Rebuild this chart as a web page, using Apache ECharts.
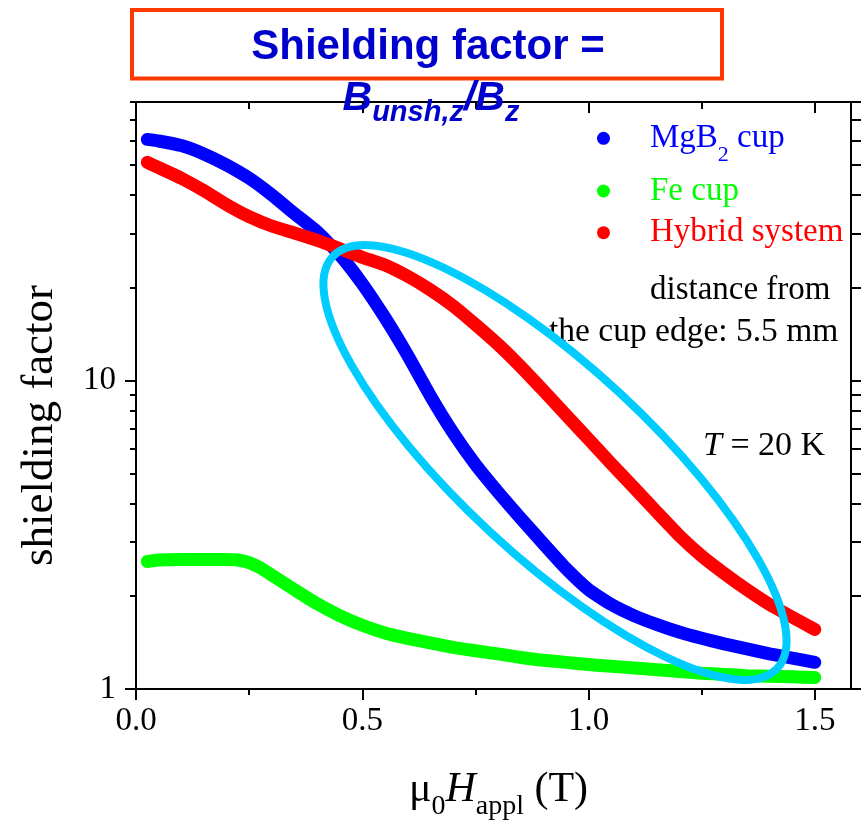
<!DOCTYPE html>
<html>
<head>
<meta charset="utf-8">
<script src="https://cdn.jsdelivr.net/npm/echarts@6.0.0/dist/echarts.min.js"></script>
<style>
  html, body { margin: 0; padding: 0; background: #ffffff; }
  #chart { width: 861px; height: 828px; }
</style>
</head>
<body>
<div id="chart"></div>
<script>
// Applied field (T) for the MgB2 cup and hybrid system curves
const fieldT = [0.025, 0.05, 0.10, 0.15, 0.20, 0.25, 0.30, 0.35, 0.40, 0.45, 0.50,
  0.55, 0.60, 0.65, 0.70, 0.75, 0.80, 0.85, 0.90, 0.95, 1.00,
  1.05, 1.10, 1.15, 1.20, 1.25, 1.30, 1.35, 1.40, 1.45, 1.50];
// Shielding factor, MgB2 cup
const mgb2Cup = [60.5, 59.8, 57.8, 54.3, 50.0, 45.3, 40.0, 34.8, 30.4, 25.6, 20.6,
  16.0, 12.1, 8.95, 6.8, 5.35, 4.35, 3.58, 2.96, 2.46, 2.10,
  1.88, 1.73, 1.62, 1.53, 1.46, 1.40, 1.35, 1.30, 1.26, 1.22];
// Shielding factor, hybrid system (MgB2 + Fe)
const hybridSystem = [51.0, 49.0, 45.3, 41.3, 37.2, 34.0, 31.7, 30.1, 28.5, 26.8, 25.1,
  23.7, 21.8, 19.7, 17.5, 15.2, 13.1, 11.1, 9.29, 7.74, 6.46,
  5.38, 4.50, 3.76, 3.15, 2.70, 2.37, 2.10, 1.88, 1.71, 1.56];
// Applied field (T) and shielding factor for the Fe cup
const feField = [0.025, 0.05, 0.10, 0.15, 0.20, 0.225, 0.25, 0.275, 0.30, 0.35, 0.40,
  0.45, 0.50, 0.55, 0.60, 0.65, 0.70, 0.75, 0.80, 0.85, 0.90, 0.95, 1.00,
  1.05, 1.10, 1.15, 1.20, 1.25, 1.30, 1.35, 1.40, 1.45, 1.50];
const feCup = [2.59, 2.62, 2.63, 2.63, 2.63, 2.62, 2.57, 2.47, 2.34, 2.10, 1.89,
  1.73, 1.61, 1.52, 1.46, 1.41, 1.365, 1.33, 1.30, 1.265, 1.24, 1.22, 1.20,
  1.185, 1.17, 1.155, 1.14, 1.125, 1.115, 1.105, 1.10, 1.095, 1.09];

// Tick positions
const xMajorTicks = [0, 0.5, 1.0, 1.5];
const xMinorTicks = [0.25, 0.75, 1.25];
const yMajorTicks = [1, 10];
const yMinorTicks = [2, 3, 4, 5, 6, 7, 8, 9, 20, 30, 40, 50, 60, 70, 80];

const SERIF = '"Liberation Serif", "Times New Roman", serif';
const SANS = '"Liberation Sans", Arial, sans-serif';
const INK = '#000000';
const BLUE = '#0000ff', GREEN = '#00ff00', RED = '#ff0000';

const X_MIN = 0, X_MAX = 1.58;
const Y_MIN = 1, Y_MAX = 80;

const axisLineStyle = { show: true, onZero: false, lineStyle: { color: INK, width: 2 } };
const hiddenLine = { show: false, onZero: false };

function xAxisSpec(position, ticks, len, inside, extra) {
  return Object.assign({
    type: 'value', position, min: X_MIN, max: X_MAX,
    axisLine: hiddenLine,
    axisTick: { show: true, inside, length: len, customValues: ticks, lineStyle: { color: INK, width: 2 } },
    axisLabel: { show: false },
    splitLine: { show: false }
  }, extra || {});
}
function yAxisSpec(position, ticks, len, inside, extra) {
  return Object.assign({
    type: 'log', logBase: 10, position, min: Y_MIN, max: Y_MAX,
    axisLine: hiddenLine,
    axisTick: { show: true, inside, length: len, customValues: ticks, lineStyle: { color: INK, width: 2 } },
    axisLabel: { show: false },
    splitLine: { show: false }
  }, extra || {});
}

function pairs(xs, ys) { return xs.map((x, i) => [x, ys[i]]); }

function curve(name, color, xs, ys) {
  return {
    name, type: 'line', color,
    data: pairs(xs, ys),
    xAxisIndex: 0, yAxisIndex: 0,
    symbol: 'none', showSymbol: false, smooth: 0.15,
    lineStyle: { width: 13, color, cap: 'round', join: 'round' },
    itemStyle: { color },
    emphasis: { disabled: true },
    silent: true
  };
}

function legendFor(name, top, color, formatter, rich) {
  return {
    data: [name], left: 597, top, orient: 'vertical', padding: 0,
    icon: 'circle', itemWidth: 83, itemHeight: 13, selectedMode: false,
    itemStyle: { borderWidth: 0 },
    formatter: formatter || '{name}',
    textStyle: Object.assign({ color, fontFamily: SERIF, fontSize: 33, lineHeight: 40 },
      rich ? { rich } : {})
  };
}

const chart = echarts.init(document.getElementById('chart'), null, { renderer: 'canvas' });

chart.setOption({
  animation: false,
  backgroundColor: '#ffffff',
  grid: { left: 136, right: 10, top: 102, bottom: 139, containLabel: false, outerBoundsMode: 'none' },
  xAxis: [
    xAxisSpec('bottom', xMajorTicks, 11, false, {
      axisLine: axisLineStyle,
      axisLabel: {
        show: true, customValues: xMajorTicks, margin: 16,
        formatter: v => Number(v).toFixed(1),
        color: INK, fontFamily: SERIF, fontSize: 33
      },
      name: '{m|\u03bc}{s|0}{i|H}{s|appl}{m| (T)}',
      nameLocation: 'middle', nameGap: 76,
      nameTextStyle: {
        color: INK, fontFamily: SERIF, fontSize: 42, padding: [0, 0, 0, 10],
        rich: {
          m: { fontFamily: SERIF, fontSize: 42, lineHeight: 50, color: INK },
          i: { fontFamily: SERIF, fontSize: 42, lineHeight: 50, fontStyle: 'italic', color: INK },
          s: { fontFamily: SERIF, fontSize: 28, lineHeight: 28, padding: [33, 0, 0, 0], color: INK }
        }
      }
    }),
    xAxisSpec('bottom', xMinorTicks, 6, false),
    xAxisSpec('top', xMajorTicks, 11, true, { axisLine: axisLineStyle }),
    xAxisSpec('top', xMinorTicks, 7, true)
  ],
  yAxis: [
    yAxisSpec('left', yMajorTicks, 11, false, {
      axisLine: axisLineStyle,
      axisLabel: {
        show: true, customValues: yMajorTicks, margin: 20,
        formatter: v => String(Math.round(v)),
        color: INK, fontFamily: SERIF, fontSize: 33
      },
      name: 'shielding factor',
      nameLocation: 'middle', nameGap: 73,
      nameTextStyle: { color: INK, fontFamily: SERIF, fontSize: 45, lineHeight: 45, padding: [0, 60, 0, 0] }
    }),
    yAxisSpec('left', yMinorTicks, 6, false),
    yAxisSpec('right', yMajorTicks.concat(yMinorTicks), 10, false, { axisLine: axisLineStyle })
  ],
  legend: [
    legendFor('MgB2 cup', 110.8, BLUE, () => '{m|MgB}{s|2}{m| cup}', {
      m: { color: BLUE, fontFamily: SERIF, fontSize: 33, lineHeight: 40 },
      s: { color: BLUE, fontFamily: SERIF, fontSize: 22, lineHeight: 22, padding: [33, 0, 0, 0] }
    }),
    legendFor('Fe cup', 171, GREEN),
    legendFor('Hybrid system', 212.7, RED)
  ],
  series: [
    curve('MgB2 cup', BLUE, fieldT, mgb2Cup),
    curve('Fe cup', GREEN, feField, feCup),
    curve('Hybrid system', RED, fieldT, hybridSystem)
  ],
  graphic: [
    // boxed formula heading
    {
      type: 'rect', z: 90, silent: true,
      shape: { x: 132, y: 10, width: 590, height: 68.5 },
      style: { fill: 'transparent', stroke: '#ff3a00', lineWidth: 4 }
    },
    {
      type: 'text', z: 95, silent: true, x: 428, y: 47.5,
      style: {
        text: 'Shielding factor =', fill: '#0000cc',
        fontFamily: SANS, fontSize: 42, fontWeight: 'bold', lineHeight: 48,
        align: 'center', verticalAlign: 'middle'
      }
    },
    {
      type: 'text', z: 95, silent: true, x: 431, y: 99,
      style: {
        text: '{b|B}{s|unsh,z}{b|/B}{s|z}',
        align: 'center', verticalAlign: 'middle',
        rich: {
          b: { fill: '#0000cc', fontFamily: SANS, fontSize: 41, fontWeight: 'bold', fontStyle: 'italic', lineHeight: 48 },
          s: { fill: '#0000cc', fontFamily: SANS, fontSize: 29, fontWeight: 'bold', fontStyle: 'italic', lineHeight: 29, padding: [28, 0, 0, 0] }
        }
      }
    },
    // notes inside the plot
    {
      type: 'text', z: 95, silent: true, x: 650, y: 290.6,
      style: { text: 'distance from', fill: INK, fontFamily: SERIF, fontSize: 33, align: 'left', verticalAlign: 'middle' }
    },
    {
      type: 'text', z: 95, silent: true, x: 549, y: 331.9,
      style: { text: 'the cup edge: 5.5 mm', fill: INK, fontFamily: SERIF, fontSize: 33.5, align: 'left', verticalAlign: 'middle' }
    },
    {
      type: 'text', z: 95, silent: true, x: 703, y: 446.5,
      style: {
        text: '{i|T}{r| = 20 K}', align: 'left', verticalAlign: 'middle',
        rich: {
          i: { fill: INK, fontFamily: SERIF, fontSize: 34, fontStyle: 'italic', lineHeight: 40 },
          r: { fill: INK, fontFamily: SERIF, fontSize: 34, lineHeight: 40 }
        }
      }
    },
    // highlight ring around the crossover region
    {
      type: 'ellipse', z: 100, silent: true,
      x: 555, y: 462.5, rotation: -42.8 * Math.PI / 180,
      shape: { cx: 0, cy: 0, rx: 303, ry: 95 },
      style: { fill: 'transparent', stroke: '#00ccff', lineWidth: 8 }
    }
  ]
});
</script>
</body>
</html>
